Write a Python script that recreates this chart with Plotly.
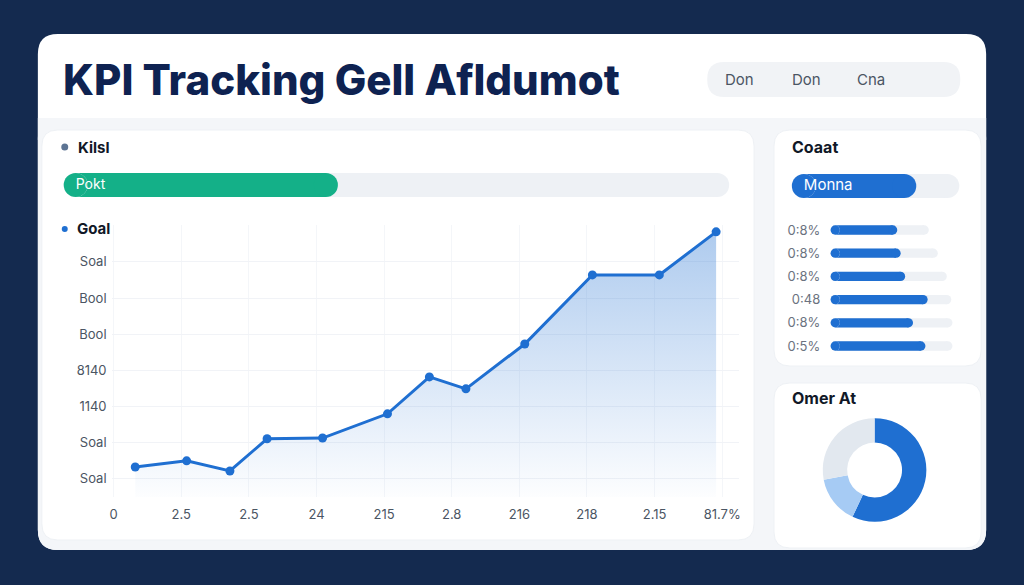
import plotly.graph_objects as go

W, H = 1024, 585

# ---------------- data ----------------
x_tick_vals = [0, 1, 2, 3, 4, 5, 6, 7, 8, 9]
x_tick_text = ["0", "2.5", "2.5", "24", "215", "2.8", "216", "218", "2.15", "81.7%"]
y_tick_vals = [0, 1, 2, 3, 4, 5, 6]
y_tick_text = ["Soal", "Soal", "1140", "8140", "Bool", "Bool", "Soal"]

goal_x = [0.32, 1.08, 1.72, 2.27, 3.09, 4.05, 4.67, 5.21, 6.08, 7.08, 8.07, 8.91]
goal_y = [0.33, 0.50, 0.22, 1.11, 1.13, 1.80, 2.82, 2.49, 3.73, 5.64, 5.64, 6.83]

kpi_label = "Pokt"
kpi_value = 39
kpi_max = 100

month_label = "Monna"
month_value = 70
month_max = 100

row_labels = ["0:8%", "0:8%", "0:8%", "0:48", "0:8%", "0:5%"]
row_values = [51, 54, 58, 78, 65, 76]
row_tracks = [79, 87, 95, 99, 100, 100]

donut_labels = ["A", "B", "C"]
donut_values = [57, 15, 28]

# ---------------- style ----------------
NAVY_BG = "#142a4f"
TITLE_C = "#0e2251"
BLUE = "#1f6fd1"
LIGHT_BLUE = "#a6cbf4"
GRAY_SLICE = "#e2e8ef"
TRACK = "#eef1f5"
GREEN = "#14b088"
FONT = "Inter"


def X(px):
    return px / W


def Y(py):
    return 1 - py / H


def rrect(x0, y0, x1, y1, r, fill, line=None):
    p = (f"M {X(x0 + r)},{Y(y0)} L {X(x1 - r)},{Y(y0)} Q {X(x1)},{Y(y0)} {X(x1)},{Y(y0 + r)} "
         f"L {X(x1)},{Y(y1 - r)} Q {X(x1)},{Y(y1)} {X(x1 - r)},{Y(y1)} "
         f"L {X(x0 + r)},{Y(y1)} Q {X(x0)},{Y(y1)} {X(x0)},{Y(y1 - r)} "
         f"L {X(x0)},{Y(y0 + r)} Q {X(x0)},{Y(y0)} {X(x0 + r)},{Y(y0)} Z")
    return dict(type="path", path=p, xref="paper", yref="paper", fillcolor=fill,
                line=dict(width=1 if line else 0, color=line or "rgba(0,0,0,0)"), layer="below")


fig = go.Figure()

# ---- line chart (Goal) ----
Y_MIN = -0.5
fig.add_trace(go.Scatter(x=goal_x, y=[Y_MIN] * len(goal_x), mode="lines",
                         line=dict(width=0), hoverinfo="skip", showlegend=False,
                         xaxis="x", yaxis="y"))
fig.add_trace(go.Scatter(
    x=goal_x, y=goal_y, mode="lines+markers", fill="tonexty",
    fillgradient=dict(type="vertical",
                      colorscale=[[0, "rgba(31,111,209,0.01)"], [1, "rgba(31,111,209,0.36)"]]),
    line=dict(color=BLUE, width=3), marker=dict(color=BLUE, size=9),
    showlegend=False, xaxis="x", yaxis="y"))


def pill(xv, yv, color, width, cap_px, xa, ya):
    """Horizontal bar with round caps (circle markers at both ends)."""
    fig.add_trace(go.Bar(x=xv, y=yv, orientation="h", marker=dict(color=color, line=dict(width=0)),
                         width=width, offset=-width / 2, showlegend=False, xaxis=xa, yaxis=ya,
                         hoverinfo="skip"))
    fig.add_trace(go.Scatter(x=[0] * len(xv) + list(xv), y=list(yv) * 2, mode="markers",
                             marker=dict(color=color, size=cap_px, line=dict(width=0)),
                             hoverinfo="skip", showlegend=False, xaxis=xa, yaxis=ya, cliponaxis=False))


def bar_label(label, size, xa, ya):
    fig.add_trace(go.Scatter(x=[0], y=[0], mode="text", text=[label], textposition="middle right",
                             textfont=dict(color="white", size=size, family=FONT),
                             hoverinfo="skip", showlegend=False, xaxis=xa, yaxis=ya, cliponaxis=False))


# ---- KPI progress bar ----
pill([kpi_max], [0], TRACK, 1, 24, "x2", "y2")
pill([kpi_value], [0], GREEN, 1, 24, "x2", "y2")
bar_label(kpi_label, 14, "x2", "y2")

# ---- Month bar ----
pill([month_max], [0], TRACK, 1, 24, "x3", "y3")
pill([month_value], [0], BLUE, 1, 24, "x3", "y3")
bar_label(month_label, 15, "x3", "y3")

# ---- row bars ----
row_pos = list(range(len(row_labels) - 1, -1, -1))
pill(row_tracks, row_pos, TRACK, 0.4, 9.3, "x4", "y4")
pill(row_values, row_pos, BLUE, 0.4, 9.3, "x4", "y4")

# ---- donut ----
fig.add_trace(go.Pie(labels=donut_labels, values=donut_values, hole=0.53, sort=False,
                     direction="clockwise", rotation=0, textinfo="none",
                     marker=dict(colors=[BLUE, LIGHT_BLUE, GRAY_SLICE], line=dict(width=0)),
                     domain=dict(x=[X(824), X(928)], y=[Y(522), Y(418)]), showlegend=False))

# ---------------- shapes ----------------
shapes = [
    rrect(36, 34, 988, 550, 20, "#ffffff"),
    rrect(36, 118, 988, 550, 20, "#f4f6f9"),
    dict(type="rect", xref="paper", yref="paper", x0=X(36), x1=X(988), y0=Y(140), y1=Y(118),
         fillcolor="#f4f6f9", line=dict(width=0), layer="below"),
    rrect(40, 130, 755, 540, 16, "#ffffff", "#eef1f5"),
    rrect(775, 130, 983, 366, 16, "#ffffff", "#eef1f5"),
    rrect(775, 383, 983, 548, 16, "#ffffff", "#eef1f5"),
    rrect(708, 62, 962, 97, 17, "#f1f3f6"),
    dict(type="circle", xref="paper", yref="paper", x0=X(59.5), x1=X(66.5), y0=Y(150.5), y1=Y(143.5),
         fillcolor="#5d7493", line=dict(width=0)),
    dict(type="circle", xref="paper", yref="paper", x0=X(60), x1=X(66), y0=Y(232), y1=Y(226),
         fillcolor=BLUE, line=dict(width=0)),
]

ann = []


def text(px, py, s, size, color, bold=False, anchor="left", weight=700):
    ann.append(dict(x=X(px), y=Y(py), xref="paper", yref="paper", text=s, showarrow=False,
                    xanchor=anchor, yanchor="middle",
                    font=dict(family=FONT, size=size, color=color, weight=weight if bold else 400)))


text(59, 80, "KPI Tracking Gell Afldumot", 42, TITLE_C, bold=True, weight=800)
text(740, 80, "Don", 15, "#4b5563", anchor="center")
text(808, 80, "Don", 15, "#4b5563", anchor="center")
text(872, 80, "Cna", 15, "#4b5563", anchor="center")
text(74, 147, "Kilsl", 15, "#111827", bold=True)
text(73, 229, "Goal", 15, "#111827", bold=True)
text(791, 147, "Coaat", 16, "#111827", bold=True)
text(791, 398, "Omer At", 16, "#111827", bold=True)

axis_common = dict(showline=False, zeroline=False, fixedrange=True)

fig.update_layout(
    width=W, height=H, margin=dict(l=0, r=0, t=0, b=0),
    paper_bgcolor=NAVY_BG, plot_bgcolor="rgba(0,0,0,0)",
    barmode="group", shapes=shapes, annotations=ann,
    font=dict(family=FONT),
    xaxis=dict(domain=[X(110), X(740)], range=[-0.03, 9.25], tickvals=x_tick_vals, ticktext=x_tick_text,
               showgrid=True, gridcolor="#f4f6f9", gridwidth=1, ticks="", ticklabelstandoff=8,
               tickfont=dict(size=13, color="#4b5563", family=FONT), **axis_common),
    yaxis=dict(domain=[Y(497), Y(225)], range=[Y_MIN, 7.02], tickvals=y_tick_vals, ticktext=y_tick_text,
               showgrid=True, gridcolor="#f1f3f7", gridwidth=1, ticks="", ticklabelstandoff=4,
               tickfont=dict(size=13, color="#4b5563", family=FONT), **axis_common),
    xaxis2=dict(domain=[X(74), X(718)], range=[0, kpi_max], visible=False, **axis_common),
    yaxis2=dict(domain=[Y(197), Y(173)], range=[-0.5, 0.5], visible=False, **axis_common),
    xaxis3=dict(domain=[X(805), X(949)], range=[0, month_max], visible=False, **axis_common),
    yaxis3=dict(domain=[Y(198), Y(174)], range=[-0.5, 0.5], visible=False, **axis_common),
    xaxis4=dict(domain=[X(836.5), X(949.5)], range=[0, 100], visible=False, **axis_common),
    yaxis4=dict(domain=[Y(357.6), Y(218.4)], range=[-0.5, 5.5], tickvals=row_pos, ticktext=row_labels,
                showgrid=False, ticks="", ticklabelstandoff=14, anchor="x4",
                tickfont=dict(size=13, color="#6b7280", family=FONT), **axis_common),
)
fig.update_layout(xaxis4_anchor="y4", xaxis2_anchor="y2", yaxis2_anchor="x2",
                  xaxis3_anchor="y3", yaxis3_anchor="x3")

fig.write_html("out.html")
